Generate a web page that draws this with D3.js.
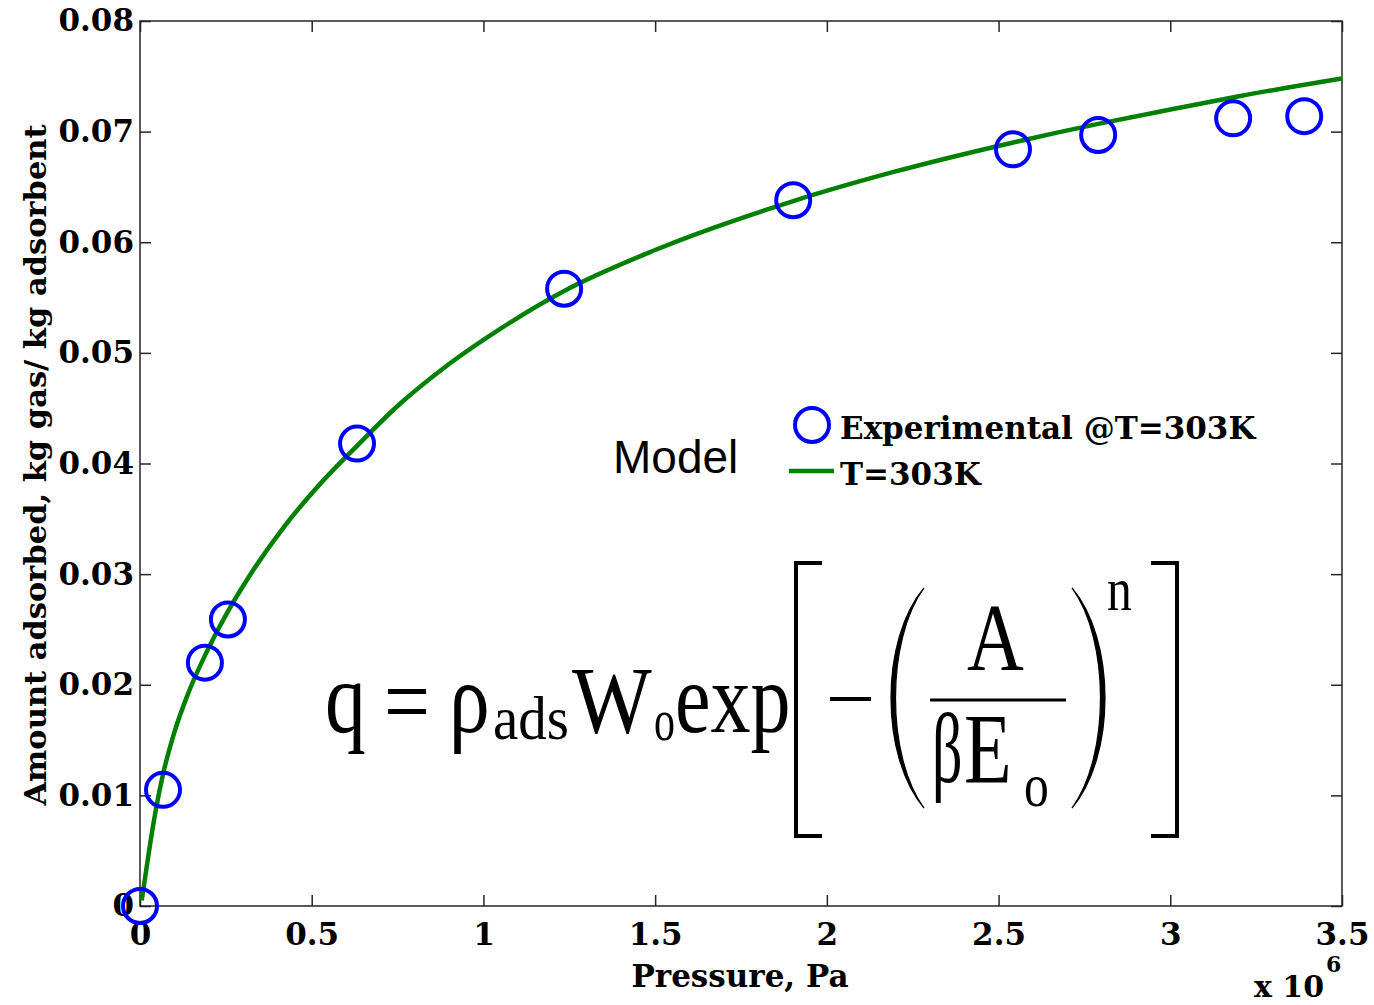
<!DOCTYPE html>
<html><head><meta charset="utf-8">
<script src="https://cdn.jsdelivr.net/npm/d3@7"></script>
<style>
html,body{margin:0;padding:0;background:#fff;}
svg{display:block;}
</style></head>
<body>
<svg id="chart" width="1374" height="1005"></svg>
<script>
// Experimental data (Pressure in Pa, amount adsorbed in kg/kg)
const expPressure = [0, 0.067e6, 0.189e6, 0.256e6, 0.632e6, 1.235e6, 1.902e6, 2.542e6, 2.790e6, 3.183e6, 3.390e6];
const expAmount   = [0, 0.0105, 0.0220, 0.0259, 0.0418, 0.0558, 0.0638, 0.0684, 0.0697, 0.0712, 0.0714];
// Model curve
const modelPressure = [0.005e6, 0.015e6, 0.03e6, 0.045e6, 0.067e6, 0.1e6, 0.14e6, 0.19e6, 0.25e6, 0.32e6, 0.42e6, 0.52e6, 0.632e6, 0.75e6, 0.9e6, 1.05e6, 1.235e6, 1.5e6, 1.9e6, 2.2e6, 2.54e6, 2.79e6, 3.0e6, 3.2e6, 3.5e6];
const modelAmount   = [0.0005, 0.0026, 0.0057, 0.0085, 0.0119, 0.0157, 0.0192, 0.0227, 0.0263, 0.0299, 0.0343, 0.0380, 0.0416, 0.0452, 0.0490, 0.0522, 0.0556, 0.0593, 0.0637, 0.0664, 0.0690, 0.0707, 0.0720, 0.0732, 0.0748];
const xTicks = [0, 0.5e6, 1e6, 1.5e6, 2e6, 2.5e6, 3e6, 3.5e6];
const xTickLabels = ["0", "0.5", "1", "1.5", "2", "2.5", "3", "3.5"];
const yTicks = [0, 0.01, 0.02, 0.03, 0.04, 0.05, 0.06, 0.07, 0.08];
const yTickLabels = ["0", "0.01", "0.02", "0.03", "0.04", "0.05", "0.06", "0.07", "0.08"];
const legendLabels = ["Experimental @T=303K", "T=303K"];

const svg = d3.select("#chart");
const L = 140, R = 1342, T = 21, B = 906;
const x = d3.scaleLinear().domain([0, 3.5e6]).range([L, R]);
const y = d3.scaleLinear().domain([0, 0.08]).range([B, T]);
const serif = "'DejaVu Serif', serif";
const axisColor = "#262626";
const fs = 31;

function styleAxis(g) {
  g.select(".domain").remove();
  g.selectAll(".tick line").attr("stroke", axisColor).attr("stroke-width", 1.5);
  g.selectAll(".tick text").attr("font-family", serif).attr("font-weight", "bold").attr("font-size", fs).attr("fill", "#000");
}
svg.append("g").attr("transform", `translate(0,${B})`)
  .call(d3.axisBottom(x).tickValues(xTicks).tickFormat((d,i)=>xTickLabels[i]).tickSizeInner(-11).tickSizeOuter(0).tickPadding(17))
  .call(styleAxis);
svg.append("g").attr("transform", `translate(0,${T})`)
  .call(d3.axisTop(x).tickValues(xTicks).tickFormat("").tickSizeInner(-11).tickSizeOuter(0))
  .call(styleAxis);
svg.append("g").attr("transform", `translate(${L},0)`)
  .call(d3.axisLeft(y).tickValues(yTicks).tickFormat((d,i)=>yTickLabels[i]).tickSizeInner(-11).tickSizeOuter(0).tickPadding(6))
  .call(styleAxis);
svg.append("g").attr("transform", `translate(${R},0)`)
  .call(d3.axisRight(y).tickValues(yTicks).tickFormat("").tickSizeInner(-11).tickSizeOuter(0))
  .call(styleAxis);
svg.append("rect").attr("x", L).attr("y", T).attr("width", R-L).attr("height", B-T)
  .attr("fill", "none").attr("stroke", axisColor).attr("stroke-width", 1.5);

// Model curve
const modelData = modelPressure.map((p,i)=>[p, modelAmount[i]]);
svg.append("path").datum(modelData)
  .attr("d", d3.line().x(d=>x(d[0])).y(d=>y(d[1])).curve(d3.curveMonotoneX))
  .attr("fill", "none").attr("stroke", "#008000").attr("stroke-width", 4.5);

// Experimental points
const expData = expPressure.map((p,i)=>[p, expAmount[i]]);
svg.append("g").selectAll("circle").data(expData).join("circle")
  .attr("cx", d=>x(d[0])).attr("cy", d=>y(d[1])).attr("r", 17)
  .attr("fill", "none").attr("stroke", "#0000ff").attr("stroke-width", 4);

// Axis labels
svg.append("text").attr("x", 740).attr("y", 987).attr("text-anchor", "middle")
  .attr("font-family", serif).attr("font-weight", "bold").attr("font-size", fs).text("Pressure, Pa");
svg.append("text").attr("transform", "translate(46,465) rotate(-90)").attr("text-anchor", "middle")
  .attr("font-family", serif).attr("font-weight", "bold").attr("font-size", 30.5).text("Amount adsorbed, kg gas/ kg adsorbent");
const mult = svg.append("text").attr("x", 1254).attr("y", 997).attr("font-family", serif).attr("font-weight", "bold").attr("font-size", 30);
mult.append("tspan").text("x 10");
mult.append("tspan").attr("dy", -25).attr("dx", 2).attr("font-size", 22).text("6");

// Legend
svg.append("circle").attr("cx", 812).attr("cy", 425).attr("r", 17)
  .attr("fill", "none").attr("stroke", "#0000ff").attr("stroke-width", 4);
svg.append("line").attr("x1", 789).attr("x2", 834).attr("y1", 471).attr("y2", 471)
  .attr("stroke", "#008000").attr("stroke-width", 4.5);
svg.append("text").attr("x", 840).attr("y", 439).attr("font-family", serif).attr("font-weight", "bold").attr("font-size", fs).text(legendLabels[0]);
svg.append("text").attr("x", 840).attr("y", 485).attr("font-family", serif).attr("font-weight", "bold").attr("font-size", fs).text(legendLabels[1]);

// "Model" annotation
svg.append("text").attr("x", 613).attr("y", 473).attr("font-family", "'Liberation Sans', Arial, sans-serif").attr("font-size", 46).text("Model");

// Equation
const eq = svg.append("g").attr("font-family", "'Liberation Serif', 'Times New Roman', serif").attr("fill", "#000");
function eqText(str, px, py, size, sx) {
  eq.append("text").attr("transform", `translate(${px},${py}) scale(${sx||0.8},1)`).attr("font-size", size).text(str);
}
eqText("q", 325, 732, 102);
eqText("=", 384, 735, 102);
eqText("ρ", 449, 732, 102);
eqText("ads", 493, 739, 62, 0.92);
eqText("W", 572, 733, 96, 0.88);
eqText("o", 654, 740, 60, 0.7);
eqText("exp", 675, 732, 100, 0.8);
eqText("A", 967, 670, 96, 0.82);
eqText("β", 932, 782, 100, 0.6);
eqText("E", 964, 782, 100, 0.78);
eqText("o", 1024, 806, 62);
eqText("n", 1107, 610, 62);
// minus sign
eq.append("line").attr("x1", 830).attr("x2", 871).attr("y1", 699).attr("y2", 699).attr("stroke", "#000").attr("stroke-width", 4);
// fraction bar
eq.append("line").attr("x1", 930).attr("x2", 1066).attr("y1", 700).attr("y2", 700).attr("stroke", "#000").attr("stroke-width", 3);
// brackets
eq.append("path").attr("d", "M822,563 L796,563 L796,836 L822,836").attr("fill", "none").attr("stroke", "#000").attr("stroke-width", 4);
eq.append("path").attr("d", "M1151,563 L1177,563 L1177,836 L1151,836").attr("fill", "none").attr("stroke", "#000").attr("stroke-width", 4);
// parentheses (tapered)
eq.append("path").attr("d", "M924,588 C880,640 880,756 924,808 C886,756 886,640 924,588 Z").attr("fill", "#000").attr("stroke", "#000").attr("stroke-width", 1.2);
eq.append("path").attr("d", "M1072,588 C1116,640 1116,756 1072,808 C1110,756 1110,640 1072,588 Z").attr("fill", "#000").attr("stroke", "#000").attr("stroke-width", 1.2);
</script>
</body></html>
